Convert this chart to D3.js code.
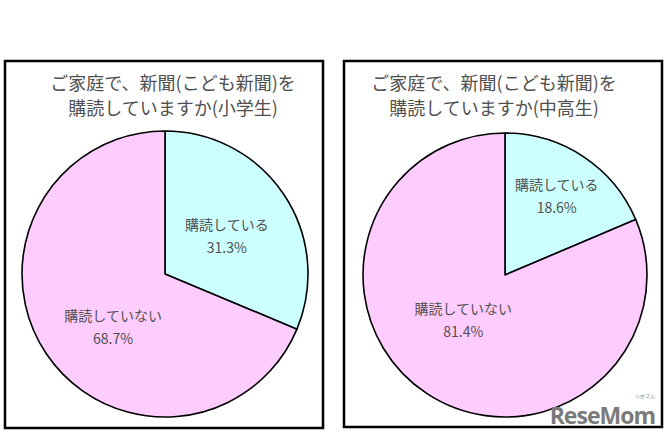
<!DOCTYPE html>
<html><head><meta charset="utf-8">
<script src="https://cdn.jsdelivr.net/npm/d3@7"></script>
<style>body{margin:0;background:#fff}svg{display:block}</style>
</head><body>
<svg id="c" width="669" height="434"></svg>
<script>
const categories = ["購読している", "購読していない"];
const titlesLine1 = ["ご家庭で、新聞(こども新聞)を", "ご家庭で、新聞(こども新聞)を"];
const titlesLine2 = ["購読していますか(小学生)", "購読していますか(中高生)"];
const elementaryValues = [31.3, 68.7];
const secondaryValues = [18.6, 81.4];
const sliceColors = ["#CCFFFF", "#FFCCFF"];

const panels = [
  {values: elementaryValues, t1: titlesLine1[0], t2: titlesLine2[0],
   box: [5, 61, 318, 367], cx: 165, cy: 274, r: 143, titleX: 173,
   labelR: [0.52, 0.52], labelOff: [[0,3],[10,12]]},
  {values: secondaryValues, t1: titlesLine1[1], t2: titlesLine2[1],
   box: [344, 61, 318, 366], cx: 505, cy: 275, r: 142, titleX: 494,
   labelR: [0.66, 0.43], labelOff: [[0,-1],[-8,-6]]}
];

const svg = d3.select("#c");
const font = "'Noto Sans CJK JP', 'Noto Sans', sans-serif";
const color = d3.scaleOrdinal().domain(categories).range(sliceColors);

panels.forEach(p => {
  const g = svg.append("g");
  g.append("rect").attr("x", p.box[0]).attr("y", p.box[1])
    .attr("width", p.box[2]).attr("height", p.box[3])
    .attr("fill", "#fff").attr("stroke", "#000").attr("stroke-width", 2.5);
  g.append("text").attr("x", p.titleX).attr("y", 90).attr("text-anchor", "middle")
    .attr("font-family", font).attr("font-size", 18).attr("fill", "#505050").text(p.t1);
  g.append("text").attr("x", p.titleX).attr("y", 115).attr("text-anchor", "middle")
    .attr("font-family", font).attr("font-size", 18).attr("fill", "#505050").text(p.t2);

  const data = categories.map((c, i) => ({cat: c, value: p.values[i], i}));
  const pie = d3.pie().value(d => d.value).sort(null);
  const arcs = pie(data);
  const arc = d3.arc().innerRadius(0).outerRadius(p.r);
  const pg = g.append("g").attr("transform", `translate(${p.cx},${p.cy})`);
  pg.selectAll("path").data(arcs).join("path")
    .attr("d", arc).attr("fill", d => color(d.data.cat))
    .attr("stroke", "#000").attr("stroke-width", 1.6).attr("stroke-linejoin", "round");

  arcs.forEach((a, i) => {
    const la = d3.arc().innerRadius(0).outerRadius(2 * p.r * p.labelR[i]);
    const [x, y] = la.centroid(a);
    const lx = x + p.labelOff[i][0], ly = y + p.labelOff[i][1];
    const t = pg.append("text").attr("text-anchor", "middle")
      .attr("font-family", font).attr("font-size", 14).attr("fill", "#505050");
    t.append("tspan").attr("x", lx).attr("y", ly - 6).text(a.data.cat);
    t.append("tspan").attr("x", lx).attr("y", ly + 17).text(a.data.value.toFixed(1) + "%");
  });
});

svg.append("text").attr("x", 655).attr("y", 424).attr("text-anchor", "end")
  .attr("font-family", "'Open Sans', 'DejaVu Sans', sans-serif").attr("font-weight", "bold")
  .attr("font-size", 23).attr("fill", "#7a7a7a").attr("letter-spacing", -1).text("ReseMom");
svg.append("text").attr("x", 645).attr("y", 398).attr("text-anchor", "middle")
  .attr("font-family", font).attr("font-size", 5).attr("fill", "#7a7a7a").text("リセマム");
</script>
</body></html>
